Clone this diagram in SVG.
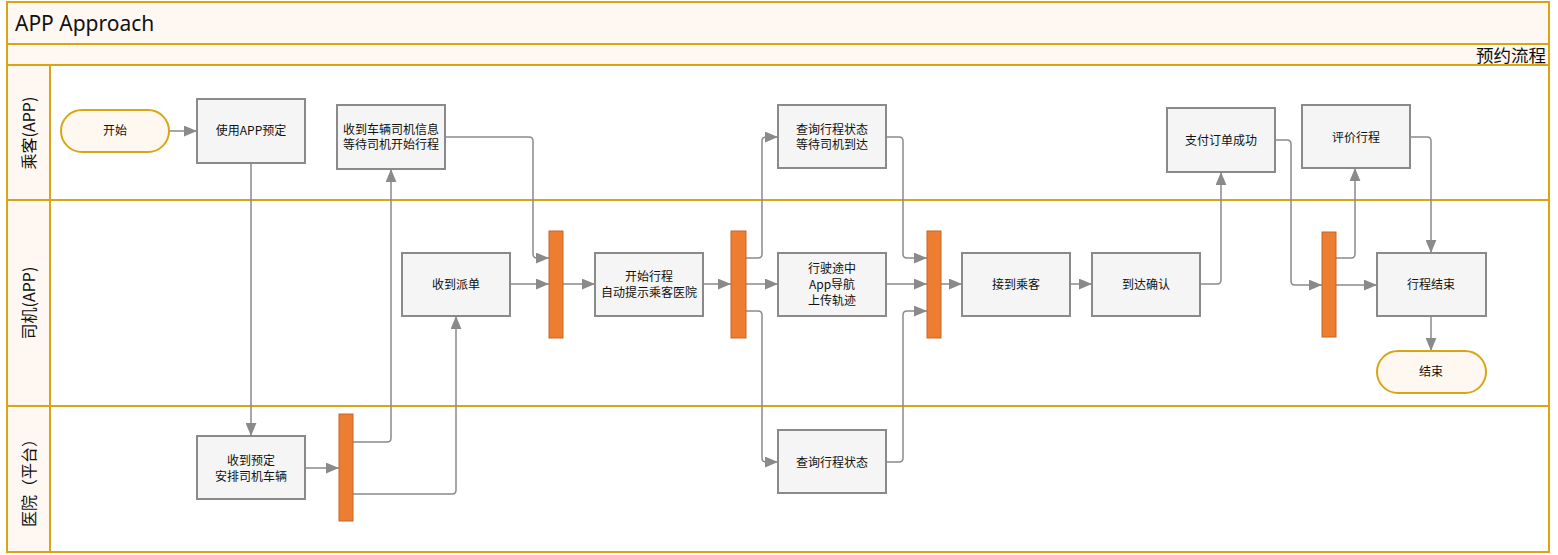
<svg xmlns="http://www.w3.org/2000/svg" width="1558" height="555" viewBox="0 0 1558 555">
<defs>
<style>
.lane{fill:#ffffff;stroke:#d9a514;stroke-width:2}
.hdr{fill:#fff8f2;stroke:#d9a514;stroke-width:2}
.box{fill:#f5f5f5;stroke:#8a8a8a;stroke-width:2}
.term{fill:#fff8f0;stroke:#d9a514;stroke-width:2}
.bar{fill:#ed7d31;stroke:#c8642b;stroke-width:1}
.t{font-family:"Noto Sans CJK SC","Noto Sans",sans-serif;font-size:12px;fill:#111;text-anchor:middle}
.lt{font-family:"Noto Sans CJK SC","Noto Sans",sans-serif;font-size:16px;fill:#111;text-anchor:middle}
.c{fill:none;stroke:#8a8a8a;stroke-width:1.5;stroke-linejoin:round}
</style>
<marker id="a" viewBox="0 0 12 10" refX="12" refY="5" markerWidth="13" markerHeight="11" markerUnits="userSpaceOnUse" orient="auto">
<path d="M0,0 L12,5 L0,10 Z" fill="#8a8a8a"/>
</marker>
</defs>
<rect x="0" y="0" width="1558" height="555" fill="#ffffff"/>
<g id="frame">
<rect class="hdr" x="7" y="2" width="1542" height="42"/>
<text x="15" y="31" font-family="'Noto Sans','Open Sans',sans-serif" font-size="21" fill="#111">APP Approach</text>
<rect class="hdr" x="7" y="44" width="1542" height="21"/>
<text x="1546" y="62" font-family="'Noto Sans CJK SC',sans-serif" font-size="17.5" fill="#111" text-anchor="end">预约流程</text>
<rect class="lane" x="7" y="65" width="1542" height="135"/>
<rect class="lane" x="7" y="200" width="1542" height="206"/>
<rect class="lane" x="7" y="406" width="1542" height="146"/>
<rect class="hdr" x="7" y="65" width="43" height="135"/>
<rect class="hdr" x="7" y="200" width="43" height="206"/>
<rect class="hdr" x="7" y="406" width="43" height="146"/>
<text class="lt" transform="translate(35,133) rotate(-90)">乘客(APP)</text>
<text class="lt" transform="translate(35,303) rotate(-90)">司机(APP)</text>
<text class="lt" transform="translate(35,479) rotate(-90)">医院（平台）</text>
</g>
<g id="connectors">
<path class="c" marker-end="url(#a)" d="M169,131 L197,131"/>
<path class="c" marker-end="url(#a)" d="M251,163 L251,436"/>
<path class="c" marker-end="url(#a)" d="M305,468 L339,468"/>
<path class="c" marker-end="url(#a)" d="M353,442 L387,442 Q391,442 391,438 L391,169"/>
<path class="c" marker-end="url(#a)" d="M353,494 L452,494 Q456,494 456,490 L456,316"/>
<path class="c" marker-end="url(#a)" d="M445,137 L529,137 Q533,137 533,141 L533,254 Q533,258 537,258 L549,258"/>
<path class="c" marker-end="url(#a)" d="M510,284 L549,284"/>
<path class="c" marker-end="url(#a)" d="M563,284 L595,284"/>
<path class="c" marker-end="url(#a)" d="M703,284 L731,284"/>
<path class="c" marker-end="url(#a)" d="M746,258 L758,258 Q762,258 762,254 L762,141 Q762,137 766,137 L778,137"/>
<path class="c" marker-end="url(#a)" d="M746,284 L778,284"/>
<path class="c" marker-end="url(#a)" d="M746,311 L758,311 Q762,311 762,315 L762,458 Q762,462 766,462 L778,462"/>
<path class="c" marker-end="url(#a)" d="M886,137 L899,137 Q903,137 903,141 L903,254 Q903,258 907,258 L927,258"/>
<path class="c" marker-end="url(#a)" d="M886,284 L927,284"/>
<path class="c" marker-end="url(#a)" d="M886,462 L899,462 Q903,462 903,458 L903,315 Q903,311 907,311 L927,311"/>
<path class="c" marker-end="url(#a)" d="M941,284 L962,284"/>
<path class="c" marker-end="url(#a)" d="M1070,284 L1092,284"/>
<path class="c" marker-end="url(#a)" d="M1200,284 L1217,284 Q1221,284 1221,280 L1221,172"/>
<path class="c" marker-end="url(#a)" d="M1275,140 L1287,140 Q1291,140 1291,144 L1291,281 Q1291,285 1295,285 L1322,285"/>
<path class="c" marker-end="url(#a)" d="M1336,258 L1351,258 Q1355,258 1355,254 L1355,168"/>
<path class="c" marker-end="url(#a)" d="M1336,285 L1377,285"/>
<path class="c" marker-end="url(#a)" d="M1410,137 L1427,137 Q1431,137 1431,141 L1431,253"/>
<path class="c" marker-end="url(#a)" d="M1431,316 L1431,351"/>
</g>
<g id="n_start"><rect class="term" x="61" y="110" width="108" height="42" rx="21"/><text class="t" x="115" y="135">开始</text></g>
<g id="n_book"><rect class="box" x="197" y="99" width="108" height="64"/><text class="t" x="251" y="135">使用APP预定</text></g>
<g id="n_info"><rect class="box" x="337" y="105" width="108" height="64"/><text class="t" x="391" y="134">收到车辆司机信息</text><text class="t" x="391" y="149">等待司机开始行程</text></g>
<g id="n_dispatch"><rect class="box" x="402" y="253" width="108" height="63"/><text class="t" x="456" y="289">收到派单</text></g>
<g id="bar1"><rect class="bar" x="549" y="231" width="14" height="107"/></g>
<g id="n_begin"><rect class="box" x="595" y="253" width="108" height="63"/><text class="t" x="649" y="281">开始行程</text><text class="t" x="649" y="297">自动提示乘客医院</text></g>
<g id="bar2"><rect class="bar" x="731" y="231" width="15" height="107"/></g>
<g id="n_query1"><rect class="box" x="778" y="105" width="108" height="63"/><text class="t" x="832" y="134">查询行程状态</text><text class="t" x="832" y="149">等待司机到达</text></g>
<g id="n_driving"><rect class="box" x="778" y="253" width="108" height="63"/><text class="t" x="832" y="273">行驶途中</text><text class="t" x="832" y="289">App导航</text><text class="t" x="832" y="305">上传轨迹</text></g>
<g id="n_query2"><rect class="box" x="778" y="430" width="108" height="63"/><text class="t" x="832" y="467">查询行程状态</text></g>
<g id="bar3"><rect class="bar" x="927" y="231" width="14" height="107"/></g>
<g id="n_pickup"><rect class="box" x="962" y="253" width="108" height="63"/><text class="t" x="1016" y="289">接到乘客</text></g>
<g id="n_arrive"><rect class="box" x="1092" y="253" width="108" height="63"/><text class="t" x="1146" y="289">到达确认</text></g>
<g id="n_pay"><rect class="box" x="1167" y="108" width="108" height="64"/><text class="t" x="1221" y="145">支付订单成功</text></g>
<g id="n_rate"><rect class="box" x="1302" y="105" width="108" height="63"/><text class="t" x="1356" y="142">评价行程</text></g>
<g id="bar4"><rect class="bar" x="1322" y="232" width="14" height="105"/></g>
<g id="n_tripend"><rect class="box" x="1377" y="253" width="109" height="63"/><text class="t" x="1431" y="289">行程结束</text></g>
<g id="n_end"><rect class="term" x="1377" y="351" width="109" height="42" rx="21"/><text class="t" x="1431" y="376">结束</text></g>
<g id="n_receive"><rect class="box" x="197" y="436" width="108" height="63"/><text class="t" x="251" y="465">收到预定</text><text class="t" x="251" y="481">安排司机车辆</text></g>
<g id="bar0"><rect class="bar" x="339" y="414" width="14" height="107"/></g>
</svg>
